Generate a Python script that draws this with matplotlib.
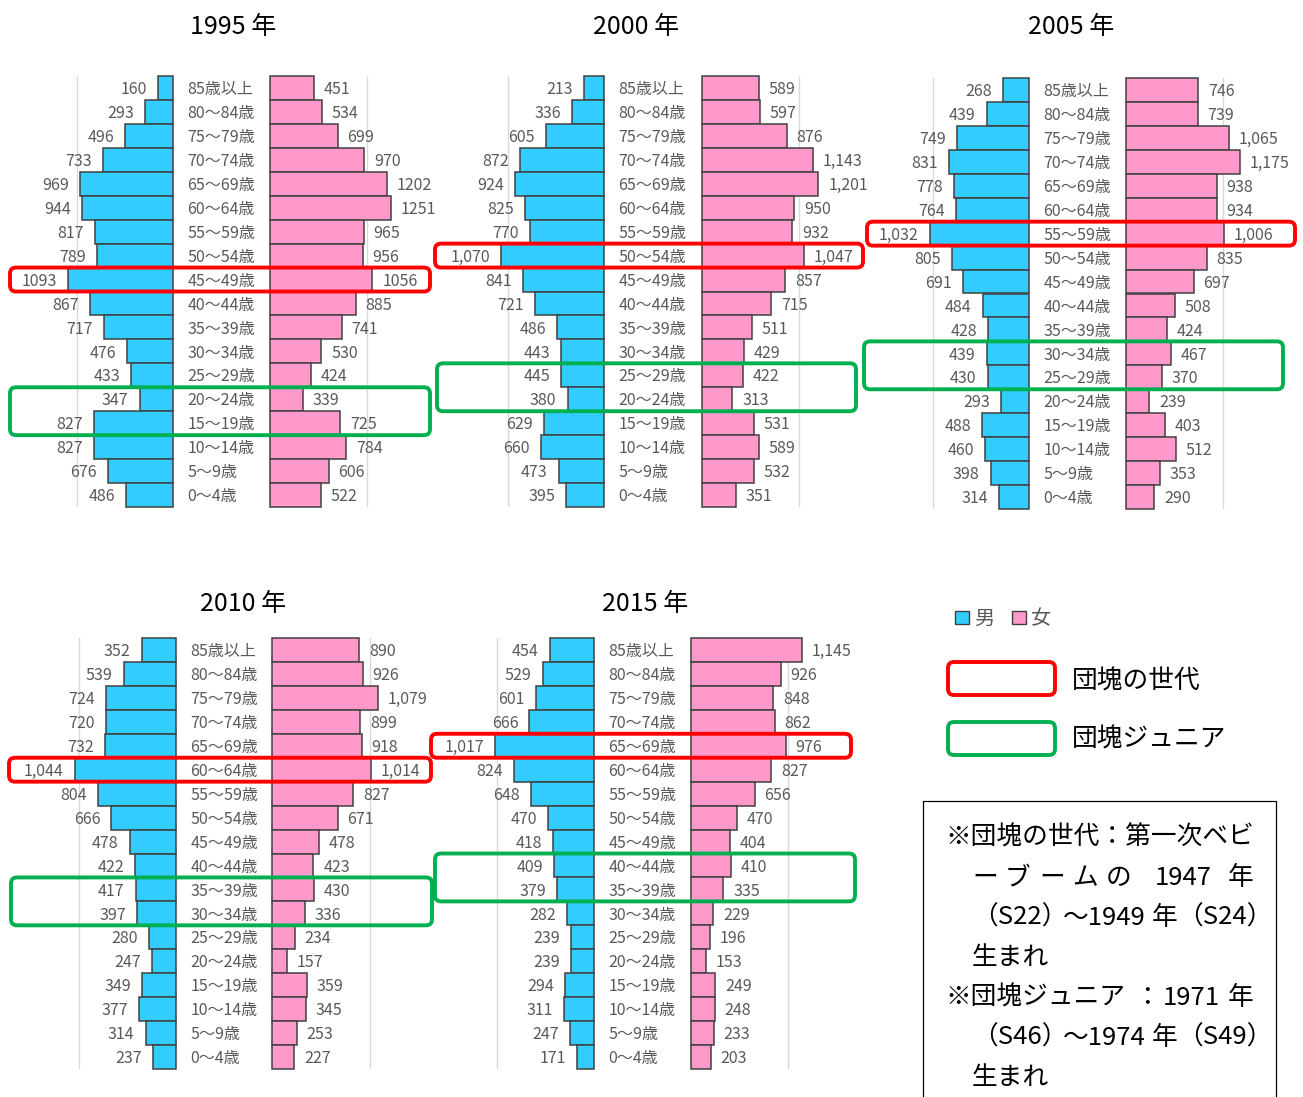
import matplotlib
matplotlib.use("Agg")
import matplotlib.pyplot as plt
from matplotlib.patches import FancyBboxPatch, Rectangle

plt.rcParams['font.family'] = ['Noto Sans CJK JP', 'DejaVu Sans']

W, H = 1303, 1097

ages = ["85歳以上", "80～84歳", "75～79歳", "70～74歳", "65～69歳", "60～64歳",
        "55～59歳", "50～54歳", "45～49歳", "40～44歳", "35～39歳", "30～34歳",
        "25～29歳", "20～24歳", "15～19歳", "10～14歳", "5～9歳", "0～4歳"]

years = ["1995", "2000", "2005", "2010", "2015"]

male_1995 = [160, 293, 496, 733, 969, 944, 817, 789, 1093, 867, 717, 476, 433, 347, 827, 827, 676, 486]
female_1995 = [451, 534, 699, 970, 1202, 1251, 965, 956, 1056, 885, 741, 530, 424, 339, 725, 784, 606, 522]
male_2000 = [213, 336, 605, 872, 924, 825, 770, 1070, 841, 721, 486, 443, 445, 380, 629, 660, 473, 395]
female_2000 = [589, 597, 876, 1143, 1201, 950, 932, 1047, 857, 715, 511, 429, 422, 313, 531, 589, 532, 351]
male_2005 = [268, 439, 749, 831, 778, 764, 1032, 805, 691, 484, 428, 439, 430, 293, 488, 460, 398, 314]
female_2005 = [746, 739, 1065, 1175, 938, 934, 1006, 835, 697, 508, 424, 467, 370, 239, 403, 512, 353, 290]
male_2010 = [352, 539, 724, 720, 732, 1044, 804, 666, 478, 422, 417, 397, 280, 247, 349, 377, 314, 237]
female_2010 = [890, 926, 1079, 899, 918, 1014, 827, 671, 478, 423, 430, 336, 234, 157, 359, 345, 253, 227]
male_2015 = [454, 529, 601, 666, 1017, 824, 648, 470, 418, 409, 379, 282, 239, 239, 294, 311, 247, 171]
female_2015 = [1145, 926, 848, 862, 976, 827, 656, 470, 404, 410, 335, 229, 196, 153, 249, 248, 233, 203]

male = {"1995": male_1995, "2000": male_2000, "2005": male_2005, "2010": male_2010, "2015": male_2015}
female = {"1995": female_1995, "2000": female_2000, "2005": female_2005, "2010": female_2010, "2015": female_2015}

# rows (index into ages) of the baby-boom generation and its children
boomer_rows = {"1995": [8], "2000": [7], "2005": [6], "2010": [5], "2015": [4]}
junior_rows = {"1995": [13, 14], "2000": [12, 13], "2005": [11, 12], "2010": [10, 11], "2015": [9, 10]}
use_comma = {"1995": False, "2000": True, "2005": True, "2010": True, "2015": True}

# pixel layout: male spine, male 1000 line, female spine, female 1000 line,
# top, bottom, title x, title y
layout = {
    "1995": (173, 77, 270, 367, 76, 507, 233, 24),
    "2000": (604, 508, 702, 799, 76, 507, 636, 24),
    "2005": (1029, 933, 1126, 1223, 78, 509, 1071, 24),
    "2010": (176, 79, 272, 370, 638, 1069, 243, 601),
    "2015": (594, 497, 691, 788, 638, 1069, 645, 601),
}
# horizontal extent of the red / green frames
red_x = {"1995": (8, 432), "2000": (433, 865), "2005": (865, 1297), "2010": (7, 433), "2015": (429, 853)}
green_x = {"1995": (8, 432), "2000": (435, 858), "2005": (862, 1285), "2010": (9, 434), "2015": (433, 857)}

BLUE = "#33CCFF"
PINK = "#FF99CC"
EDGE = "#404040"
GRID = "#D9D9D9"
LABEL = "#595959"
RED = "#FF0000"
GREEN = "#00B050"

fig = plt.figure(figsize=(W / 100, H / 100), dpi=100)


def px_axes(x0, y0, x1, y1):
    return fig.add_axes([x0 / W, 1 - y1 / H, (x1 - x0) / W, (y1 - y0) / H])


SPAN = 1700
n = len(ages)
rows = list(range(n))
dy = -1.2  # nudge labels down a little

for yr in years:
    sm, gm, sf, gf, top, bot, tx, ty = layout[yr]
    scale_m = (sm - gm) / 1000
    scale_f = (gf - sf) / 1000
    fmt = (lambda v: f"{v:,}") if use_comma[yr] else str

    axm = px_axes(sm - SPAN * scale_m, top, sm, bot)
    axm.set_xlim(SPAN, 0)
    axm.set_ylim(n - 0.5, -0.5)
    axm.axvline(1000, color=GRID, lw=1, zorder=0)
    axm.barh(rows, male[yr], height=1.0, color=BLUE, edgecolor=EDGE, lw=1.1, clip_on=False)
    axm.axis("off")
    for i, v in enumerate(male[yr]):
        axm.annotate(fmt(v), (v, i), xytext=(-8, dy), textcoords="offset points",
                     ha="right", va="center", fontsize=11.5, color=LABEL, annotation_clip=False)
        axm.annotate(ages[i], (0, i), xytext=(10.5, dy), textcoords="offset points",
                     ha="left", va="center", fontsize=11.5, color=LABEL, annotation_clip=False)

    axf = px_axes(sf, top, sf + SPAN * scale_f, bot)
    axf.set_xlim(0, SPAN)
    axf.set_ylim(n - 0.5, -0.5)
    axf.axvline(1000, color=GRID, lw=1, zorder=0)
    axf.barh(rows, female[yr], height=1.0, color=PINK, edgecolor=EDGE, lw=1.1, clip_on=False)
    axf.axis("off")
    for i, v in enumerate(female[yr]):
        axf.annotate(fmt(v), (v, i), xytext=(7, dy), textcoords="offset points",
                     ha="left", va="center", fontsize=11.5, color=LABEL, annotation_clip=False)

# overlay in pixel coordinates for titles, highlight boxes, legend and note
ov = fig.add_axes([0, 0, 1, 1])
ov.set_xlim(0, W)
ov.set_ylim(H, 0)
ov.axis("off")


def rbox(x0, y0, x1, y1, color):
    ov.add_patch(FancyBboxPatch((x0, y0), x1 - x0, y1 - y0,
                                boxstyle="round,pad=0,rounding_size=6",
                                fill=False, ec=color, lw=2.8))


for yr in years:
    sm, gm, sf, gf, top, bot, tx, ty = layout[yr]
    rh = (bot - top) / n
    ov.text(tx, ty + 3, f"{yr} 年", ha="center", va="center", fontsize=18, color="black")
    for sel, col, xs in ((boomer_rows[yr], RED, red_x[yr]), (junior_rows[yr], GREEN, green_x[yr])):
        rbox(xs[0] + 2, top + sel[0] * rh, xs[1] - 2, top + (sel[-1] + 1) * rh, col)

# legend
ov.add_patch(Rectangle((955, 611), 14, 13, fc=BLUE, ec=EDGE, lw=1))
ov.text(974, 619, "男", ha="left", va="center", fontsize=14.5, color=LABEL)
ov.add_patch(Rectangle((1012, 611), 14, 13, fc=PINK, ec=EDGE, lw=1))
ov.text(1031, 619, "女", ha="left", va="center", fontsize=14.5, color=LABEL)
rbox(948, 662, 1055, 695, RED)
ov.text(1072, 682, "団塊の世代", ha="left", va="center", fontsize=18.5, color="black")
rbox(948, 722, 1055, 755, GREEN)
ov.text(1072, 740, "団塊ジュニア", ha="left", va="center", fontsize=18.5, color="black")

# note box
ov.add_patch(Rectangle((923, 801), 353, 310, fill=False, ec="black", lw=0.9))
fs = 18.5
note = [
    (945, 835, "※団塊の世代：第一次ベビ"),
    (972, 875, "ー"), (1005, 875, "ブ"), (1039, 875, "ー"), (1072, 875, "ム"),
    (1106, 875, "の"), (1155, 875, "1947"), (1228, 875, "年"),
    (972, 915, "（S22）"), (1063, 915, "～1949"), (1152, 915, "年"), (1177, 915, "（S24）"),
    (972, 955, "生まれ"),
    (945, 995, "※団塊ジュニア"), (1134, 995, "："), (1163, 995, "1971"), (1228, 995, "年"),
    (972, 1035, "（S46）"), (1063, 1035, "～1974"), (1152, 1035, "年"), (1177, 1035, "（S49）"),
    (972, 1075, "生まれ"),
]
for x, y, s in note:
    ov.text(x, y + 3, s, ha="left", va="center", fontsize=fs, color="black")

fig.savefig("out.png", dpi=100)
